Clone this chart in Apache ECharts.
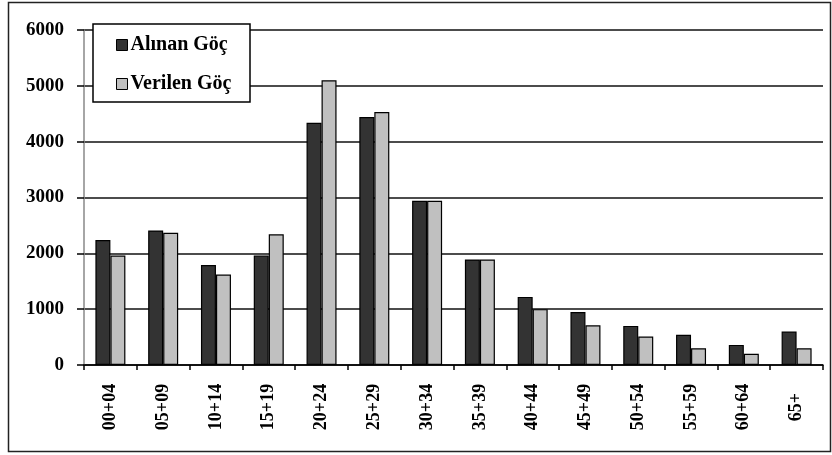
<!DOCTYPE html>
<html>
<head>
<meta charset="utf-8">
<script src="https://cdn.jsdelivr.net/npm/echarts@6/dist/echarts.min.js"></script>
<style>
  html, body { margin: 0; padding: 0; background: #fff; }
  #chart { width: 832px; height: 455px; }
</style>
</head>
<body>
<div id="chart"></div>
<script>
// Age groups
const ageGroups = ['00+04', '05+09', '10+14', '15+19', '20+24', '25+29', '30+34',
                   '35+39', '40+44', '45+49', '50+54', '55+59', '60+64', '65+'];
// Received migration by age group
const alinanGoc = [2240, 2410, 1790, 1960, 4340, 4440, 2940, 1890, 1220, 950, 700, 540, 360, 600];
// Given migration by age group
const verilenGoc = [1960, 2370, 1620, 2340, 5100, 4530, 2940, 1890, 1000, 710, 510, 300, 200, 300];
// Value axis
const yMin = 0, yMax = 6000, yStep = 1000;

const serif = '"Liberation Serif", "DejaVu Serif", serif';

const chart = echarts.init(document.getElementById('chart'), null, { renderer: 'canvas' });
chart.setOption({
  backgroundColor: '#fff',
  animation: false,
  grid: { left: 84, right: 9, top: 30, bottom: 90, containLabel: false },
  legend: {
    orient: 'vertical',
    left: 111, top: 30, z: 20,
    itemWidth: 11, itemHeight: 11, itemGap: 19,
    icon: 'rect',
    textStyle: { fontFamily: serif, fontWeight: 'bold', fontSize: 20, color: '#000', padding: [0, 0, 0, -2] },
    data: [
      { name: 'Alınan Göç', itemStyle: { color: '#333333', borderColor: '#000', borderWidth: 1 } },
      { name: 'Verilen Göç', itemStyle: { color: '#c0c0c0', borderColor: '#000', borderWidth: 1 } }
    ]
  },
  xAxis: {
    type: 'category',
    data: ageGroups,
    boundaryGap: true,
    axisLine: { lineStyle: { color: '#000', width: 1.5 } },
    axisTick: { show: true, length: 5, lineStyle: { color: '#000', width: 1.5 } },
    axisLabel: {
      rotate: 90, align: 'center', verticalAlign: 'middle', margin: 42,
      fontFamily: serif, fontWeight: 'bold', fontSize: 18, color: '#000'
    }
  },
  yAxis: {
    type: 'value',
    min: yMin, max: yMax, interval: yStep,
    axisLine: { show: true, lineStyle: { color: '#888', width: 1.5 } },
    axisTick: { show: true, length: 7, lineStyle: { color: '#000', width: 1.5 } },
    splitLine: { lineStyle: { color: '#111', width: 1.5 } },
    axisLabel: {
      margin: 20, fontFamily: serif, fontWeight: 'bold', fontSize: 19, color: '#000',
      formatter: v => String(v)
    }
  },
  series: [
    {
      name: 'Alınan Göç', type: 'bar', data: alinanGoc,
      barWidth: 15, barGap: '0%',
      itemStyle: { color: '#333333', borderColor: '#000', borderWidth: 1.2 }
    },
    {
      name: 'Verilen Göç', type: 'bar', data: verilenGoc,
      barWidth: 15,
      itemStyle: { color: '#c0c0c0', borderColor: '#000', borderWidth: 1.2 }
    }
  ],
  graphic: [
    {
      // legend frame, white so grid lines stop at its edge
      type: 'rect', z: 10, silent: true,
      shape: { x: 93, y: 24, width: 157, height: 78 },
      style: { fill: '#fff', stroke: '#000', lineWidth: 1.5 }
    },
    {
      // outer chart frame
      type: 'rect', z: 100, silent: true,
      shape: { x: 8.5, y: 2.5, width: 822, height: 449 },
      style: { fill: 'rgba(0,0,0,0)', stroke: '#222', lineWidth: 1.5 }
    }
  ]
});
</script>
</body>
</html>
